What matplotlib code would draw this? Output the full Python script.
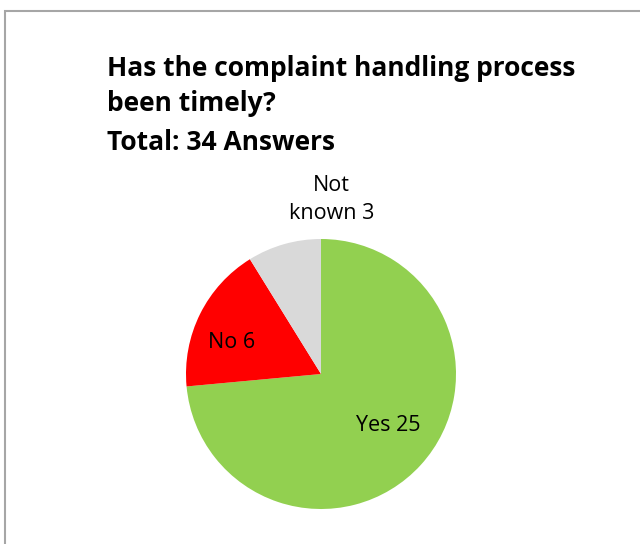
import matplotlib.pyplot as plt
from matplotlib.patches import Rectangle

# answers to the timeliness question
categories = ["Yes", "No", "Not known"]
counts = [25, 6, 3]
colors = ["#92D050", "#FF0000", "#D9D9D9"]
title_lines = ["Has the complaint handling process", "been timely?", "Total: 34 Answers"]

W, H = 640, 544
fig = plt.figure(figsize=(W / 100, H / 100), dpi=100)

# outer frame of the chart area (right and bottom edges run off the figure)
fig.add_artist(Rectangle((4.5 / W, -0.05), 1.0, 1 - 11 / H + 0.05,
                         transform=fig.transFigure, fill=False,
                         edgecolor="#A6A6A6", linewidth=1.5))

plt.rcParams["font.family"] = ["Open Sans", "DejaVu Sans"]

baselines = [76, 111, 150]
for line, yb in zip(title_lines, baselines):
    fig.text(107 / W, 1 - yb / H, line, ha="left", va="baseline",
             fontsize=19, fontweight="bold", color="black")

cx, cy, r = 321, 374, 135
ax = fig.add_axes([(cx - r) / W, (H - cy - r) / H, 2 * r / W, 2 * r / H])
ax.pie(counts, colors=colors, startangle=90, counterclock=False, radius=1,
       wedgeprops=dict(linewidth=0))
ax.set_xlim(-1, 1)
ax.set_ylim(-1, 1)
ax.set_aspect("equal")
ax.axis("off")

label_pos = {"Yes": (0.50, -0.385), "No": (-0.66, 0.237), "Not known": (0.08, 1.29)}
for cat, n in zip(categories, counts):
    text = f"{cat} {n}" if cat != "Not known" else f"Not\nknown {n}"
    x, y = label_pos[cat]
    ax.text(x, y, text, ha="center", va="center", fontsize=15.5, color="black",
            linespacing=1.45, clip_on=False)

fig.savefig("out.png", dpi=100)
